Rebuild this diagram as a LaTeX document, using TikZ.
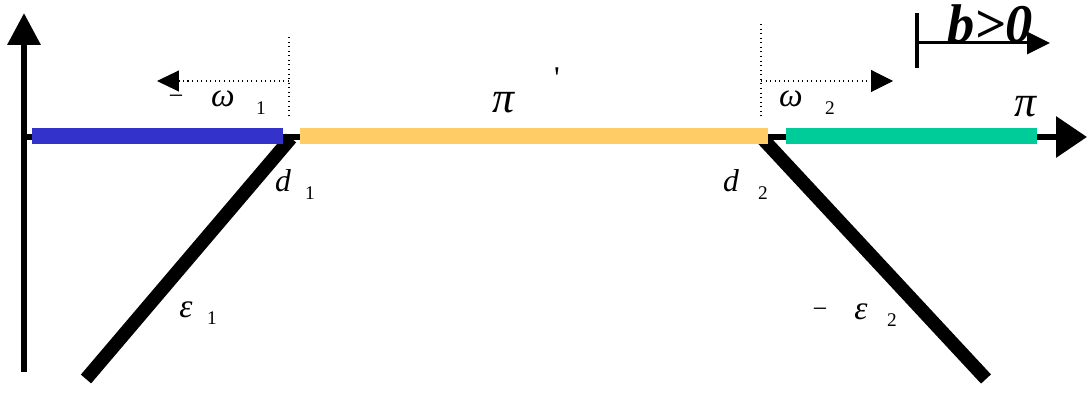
\documentclass[tikz,border=0pt]{standalone}
\usepackage{fontspec}
\setmainfont{Liberation Serif}
\usetikzlibrary{arrows.meta}
\definecolor{segblue}{RGB}{51,51,204}
\definecolor{segorange}{RGB}{255,204,102}
\definecolor{seggreen}{RGB}{0,204,153}
\tikzset{
  axisline/.style={line width=0.13cm},
  legline/.style={line width=0.27cm},
  segbar/.style={inner sep=0pt, minimum height=0.32cm},
  guide/.style={dotted, line width=0.6pt},
  bigsym/.style={font=\fontsize{25}{30}\selectfont\itshape, inner sep=0pt, anchor=base},
  midsym/.style={font=\fontsize{19}{23}\selectfont\itshape, inner sep=0pt, anchor=base},
  dsym/.style={font=\fontsize{18}{22}\selectfont\itshape, inner sep=0pt, anchor=base},
  subsym/.style={font=\fontsize{11}{13}\selectfont, inner sep=0pt, anchor=base},
}

\begin{document}
\begin{tikzpicture}[x=0.02cm, y=-0.02cm]
  \useasboundingbox (0,0) rectangle (1088,394);
  % Axes
  \coordinate (ybot) at (24,372);
  \coordinate (ytop) at (24,13);
  \coordinate (xstart) at (24,137);
  \coordinate (xend) at (1087,137);
  \draw[axisline, -{Triangle[length=0.64cm, width=0.64cm]}] (ybot) -- (ytop);
  \draw[axisline, -{Triangle[length=0.62cm, width=0.8cm]}] (xstart) -- (xend);
  % Slopes
  \coordinate (d1) at (291,138);
  \coordinate (e1) at (86,379);
  \coordinate (d2) at (762,138);
  \coordinate (e2) at (986,379);
  \draw[legline] (e1) -- (d1);
  \draw[legline] (e2) -- (d2);
  % Segments
  \node[segbar, fill=segblue, minimum width=5.02cm] (low) at (157.5,136) {};
  \node[segbar, fill=segorange, minimum width=9.36cm] (band) at (534,136) {};
  \node[segbar, fill=seggreen, minimum width=5.02cm] (high) at (911.5,136) {};
  % Dotted guides
  \coordinate (g1top) at (289,37);
  \coordinate (g1bot) at (289,117);
  \coordinate (g1end) at (157,81);
  \coordinate (g2top) at (761,24);
  \coordinate (g2bot) at (761,117);
  \coordinate (g2end) at (893,81);
  \draw[guide] (g1top) -- (g1bot);
  \draw[guide] (g2top) -- (g2bot);
  \draw[guide, -{Triangle[length=0.44cm, width=0.42cm]}] (g1bot |- g1end) -- (g1end);
  \draw[guide, -{Triangle[length=0.44cm, width=0.44cm]}] (g2bot |- g2end) -- (g2end);
  % Labels
  \node[midsym, font=\fontsize{15}{18}\selectfont] (m1) at (176,105) {−};
  \node[midsym] (w1) at (223,107) {ω};
  \node[subsym] (w1s) at (261,115) {1};
  \node[bigsym] (pp) at (503,113) {π};
  \node[font=\fontsize{18}{22}\selectfont, inner sep=0pt] (ppr) at (557,78) {\textquotesingle};
  \node[midsym] (w2) at (791,107) {ω};
  \node[subsym] (w2s) at (830,115) {2};
  \node[bigsym] (pr) at (1025,117) {π};
  \node[dsym] (dd1) at (283,192) {d};
  \node[subsym] (dd1s) at (310,200) {1};
  \node[dsym] (dd2) at (731,192) {d};
  \node[subsym] (dd2s) at (763,200) {2};
  \node[midsym] (ep1) at (186,318) {ε};
  \node[subsym] (ep1s) at (212,325) {1};
  \node[midsym, font=\fontsize{15}{18}\selectfont] (m2) at (820,318) {−};
  \node[midsym] (ep2) at (861,320) {ε};
  \node[subsym] (ep2s) at (892,327) {2};
  % Sign of b
  \coordinate (btop) at (917,13);
  \coordinate (bbot) at (917,68);
  \coordinate (bstart) at (917,43);
  \coordinate (bend) at (1050,43);
  \draw[line width=0.07cm] (btop) -- (bbot);
  \draw[line width=0.06cm, -{Triangle[length=0.46cm, width=0.44cm]}] (bstart) -- (bend);
  \node[font=\fontsize{31}{36}\selectfont\bfseries\itshape, inner sep=0pt, anchor=base] (bsign) at (990,43) {b>0};
\end{tikzpicture}
\end{document}
